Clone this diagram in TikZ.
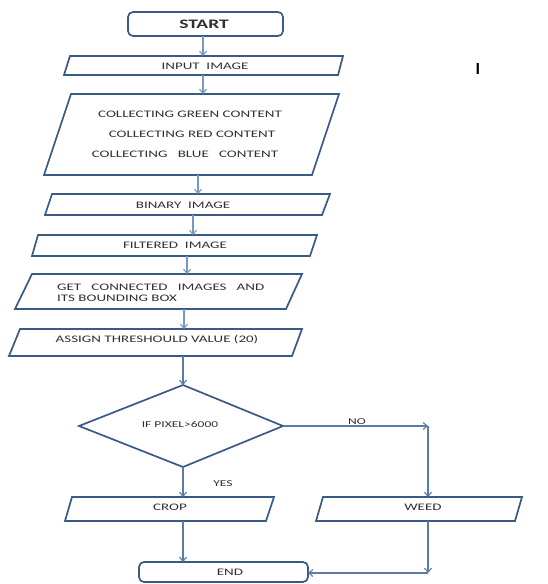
\documentclass[tikz,border=0pt]{standalone}
\usepackage{fontspec}
\setmainfont{Carlito}
\newfontfamily\flowfont[FakeStretch=1.5]{Carlito}
\usetikzlibrary{arrows.meta}
\definecolor{boxline}{HTML}{3A5A86}
\definecolor{arrline}{HTML}{7898C2}
\definecolor{arrdark}{HTML}{5A7CA4}
\definecolor{txt}{HTML}{303030}
\tikzset{
  shapebox/.style={draw=boxline, line width=1.7pt, line join=miter},
  roundbox/.style={draw=boxline, line width=1.7pt, rounded corners=5pt},
  conn/.style={draw=arrline, line width=1.1pt, -{Straight Barb[length=4pt,width=7pt]}},
  conndark/.style={draw=arrdark, line width=1.1pt, -{Straight Barb[length=4pt,width=7pt]}},
  lbl/.style={text=txt, font=\flowfont\fontsize{10}{11}\selectfont, inner sep=0pt},
  biglbl/.style={text=txt, font=\flowfont\fontsize{13}{15}\selectfont\bfseries, inner sep=0pt},
  smalllbl/.style={text=txt, font=\flowfont\fontsize{9}{10}\selectfont, inner sep=0pt},
}
\begin{document}
\begin{tikzpicture}[x=1pt,y=-1pt]
\useasboundingbox[fill=white] (0,0) rectangle (548,584);
% shapes
\draw[roundbox] (128,12) rectangle (283,36);
\draw[shapebox] (70,56) -- (343,56) -- (338,75) -- (64,75) -- cycle;
\draw[shapebox] (71,94) -- (339,94) -- (312,175) -- (44,175) -- cycle;
\draw[shapebox] (52,194) -- (330,194) -- (322,215) -- (45,215) -- cycle;
\draw[shapebox] (38,235) -- (317,235) -- (310,256) -- (32,256) -- cycle;
\draw[shapebox] (32,274) -- (302,274) -- (286,309) -- (15,309) -- cycle;
\draw[shapebox] (20,329) -- (302,329) -- (292,356) -- (9,356) -- cycle;
\draw[shapebox] (183,385) -- (283,426) -- (183,467) -- (79,426) -- cycle;
\draw[shapebox] (72,497) -- (274,497) -- (266,521) -- (65,521) -- cycle;
\draw[shapebox] (323,497) -- (522,497) -- (515,521) -- (316,521) -- cycle;
\draw[roundbox] (139,562) rectangle (308,582);
% texts
\node[biglbl] (start) at (204,24) {START};
\node[lbl] (input) at (205,66) {INPUT\ \ IMAGE};
\node[lbl] (green) at (190,114) {COLLECTING GREEN CONTENT};
\node[lbl] (red) at (192,134) {COLLECTING RED CONTENT};
\node[lbl] (blue) at (185,154) {COLLECTING\ \ \ BLUE\ \ \ CONTENT};
\node[lbl] (binary) at (183,205) {BINARY\ \ IMAGE};
\node[lbl] (filtered) at (175,245) {FILTERED\ \ IMAGE};
\node[lbl, anchor=west] (get1) at (57,287) {GET\ \ \ CONNECTED\ \ \ IMAGES\ \ \ AND};
\node[lbl, anchor=west] (get2) at (57,298) {ITS BOUNDING BOX};
\node[lbl] (assign) at (157,340) {ASSIGN THRESHOULD VALUE (20)};
\node[smalllbl] (ifpix) at (180,424) {IF PIXEL>6000};
\node[smalllbl] (no) at (357,422) {NO};
\node[smalllbl] (yes) at (223,484) {YES};
\node[lbl] (crop) at (170,507) {CROP};
\node[lbl] (weed) at (423,507) {WEED};
\node[lbl] (endn) at (230,572) {END};
\node[text=black, font=\fontsize{17}{19}\selectfont\bfseries, inner sep=0pt] (mark) at (478,69) {I};
% connector end points
\coordinate (s-b) at (203,36);  \coordinate (in-t) at (203,56);
\coordinate (in-b) at (203,75); \coordinate (co-t) at (203,94);
\coordinate (co-b) at (198,175); \coordinate (bi-t) at (198,194);
\coordinate (bi-b) at (193,215); \coordinate (fi-t) at (193,235);
\coordinate (fi-b) at (187,256); \coordinate (ge-t) at (187,274);
\coordinate (ge-b) at (184,309); \coordinate (as-t) at (184,329);
\coordinate (as-b) at (183,356); \coordinate (di-t) at (183,385);
\coordinate (di-b) at (183,467); \coordinate (di-r) at (283,426);
\coordinate (cr-t) at (183,497); \coordinate (cr-b) at (183,521);
\coordinate (no-c) at (428,426); \coordinate (we-t) at (428,497);
\coordinate (we-b) at (428,521); \coordinate (we-c) at (428,573);
\coordinate (en-t) at (183,562); \coordinate (en-r) at (308,573);
% connectors
\draw[conn] (s-b) -- (in-t);
\draw[conn] (in-b) -- (co-t);
\draw[conn] (co-b) -- (bi-t);
\draw[conn] (bi-b) -- (fi-t);
\draw[conn] (fi-b) -- (ge-t);
\draw[conn] (ge-b) -- (as-t);
\draw[conndark] (as-b) -- (di-t);
\draw[conndark] (di-b) -- (cr-t);
\draw[conndark] (di-r) -- (no-c);
\draw[conndark] (no-c) -- (we-t);
\draw[conndark] (cr-b) -- (en-t);
\draw[conndark] (we-b) -- (we-c);
\draw[conndark] (we-c) -- (en-r);
\end{tikzpicture}
\end{document}
